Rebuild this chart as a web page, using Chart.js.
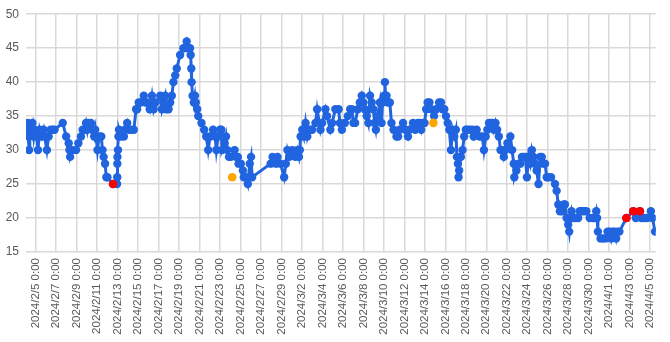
<!DOCTYPE html>
<html>
<head>
<meta charset="utf-8">
<script src="https://cdn.jsdelivr.net/npm/chart.js@4"></script>
<style>
  html, body { margin:0; padding:0; background:#fff; }
  #wrap { width:670px; height:342px; }
</style>
</head>
<body>
<div id="wrap"><canvas id="chart"></canvas></div>
<script>
// x = days after 2024/2/5 0:00
const days = [-0.87,-0.77,-0.73,-0.65,-0.58,-0.32,-0.19,-0.1,0.1,0.22,0.39,0.58,0.77,0.87,1.09,1.26,1.45,1.67,1.84,2.64,
  2.97,3.22,3.29,3.36,3.58,3.94,4.16,4.42,4.58,4.74,4.91,5.03,5.13,5.39,5.52,5.71,5.81,6.03,6.19,6.4,
  6.52,6.63,6.77,6.9,7.0,7.55,7.94,7.96,7.97,7.98,8.03,8.08,8.13,8.32,8.61,8.71,8.93,9.1,9.29,9.58,
  9.8,9.9,10.06,10.26,10.55,10.74,10.87,11.13,11.35,11.52,11.71,12.16,12.32,12.48,12.65,12.77,12.97,13.13,13.29,13.45,
  13.62,13.77,14.1,14.42,14.52,14.74,14.9,15.07,15.13,15.19,15.22,15.32,15.44,15.55,15.63,15.77,15.87,16.19,16.45,16.65,
  16.84,17.03,17.32,17.52,17.64,17.81,18.0,18.13,18.19,18.45,18.58,18.71,18.87,19.06,19.42,19.55,19.74,19.81,20.03,20.23,
  20.32,20.52,20.71,20.9,21.03,21.13,22.94,23.13,23.45,23.61,23.9,24.26,24.42,24.58,24.77,25.06,25.35,25.55,25.71,25.79,
  25.87,26.03,26.19,26.35,26.52,26.68,26.84,27.0,27.32,27.48,27.81,27.97,28.29,28.45,28.77,28.94,29.26,29.58,29.71,29.9,
  30.19,30.48,30.71,30.87,31.03,31.19,31.45,31.65,31.84,32.0,32.13,32.32,32.48,32.65,32.81,32.97,33.1,33.22,33.39,33.61,
  33.77,33.87,34.02,34.1,34.16,34.26,34.4,34.58,34.74,34.94,35.23,35.39,35.52,35.87,36.1,36.35,36.48,36.84,37.06,37.32,
  37.48,37.65,37.81,37.97,38.13,38.27,38.45,38.61,38.9,39.1,39.39,39.58,39.74,39.9,40.06,40.23,40.39,40.55,40.7,40.87,
  41.03,41.13,41.23,41.29,41.35,41.52,41.68,41.84,42.0,42.16,42.39,42.65,42.77,43.06,43.35,43.61,43.77,43.94,44.1,44.26,
  44.42,44.58,44.74,44.9,45.06,45.23,45.39,45.55,45.71,45.87,46.06,46.35,46.52,46.68,46.74,46.94,47.16,47.32,47.48,47.65,
  47.81,47.97,48.13,48.29,48.45,48.61,48.77,48.92,49.1,49.26,49.42,49.58,49.74,49.9,50.03,50.32,50.71,50.87,51.03,51.19,
  51.39,51.58,51.68,51.84,52.0,52.1,52.21,52.33,52.48,52.74,52.97,53.13,53.29,53.52,53.77,54.1,54.42,54.58,54.74,54.82,
  54.9,55.16,55.39,55.65,55.84,56.03,56.19,56.32,56.52,56.68,56.81,57.0,57.68,58.35,58.6,59.0,59.13,59.42,59.71,60.07,
  60.23,60.48];

const values = [33,34,32,30,33,34,32,33,32,30,33,32,33,32,30,32,33,33,33,34,
  32,31,30,29,30,30,31,32,33,33,34,33,34,34,33,32,33,30,32,32,
  30,29,28,26,26,25,25,26,28,29,30,32,33,32,32,33,34,33,33,33,
  36,36,37,37,38,37,37,36,38,36,37,38,36,37,38,36,36,37,38,40,
  41,42,44,45,45,46,45,45,44,42,40,38,37,38,37,36,35,34,33,32,
  30,32,33,32,30,32,33,33,30,31,32,30,29,29,30,29,29,28,28,27,
  26,26,25,28,29,26,28,29,28,29,28,26,28,30,29,30,29,30,29,30,
  32,33,32,34,32,33,33,33,34,36,33,34,36,35,33,34,36,36,34,33,
  34,35,36,36,34,34,36,37,38,37,36,35,34,38,37,36,34,33,35,37,
  34,37,38,40,38,38,37,37,34,33,32,32,33,34,33,32,33,34,33,34,
  34,33,34,34,36,37,37,36,35,36,37,37,36,36,35,34,33,30,33,32,
  33,29,28,26,27,29,30,32,33,33,33,33,32,33,32,32,30,32,33,34,
  34,34,33,34,33,32,30,30,29,30,31,32,30,28,26,27,28,28,29,29,
  29,26,29,28,30,29,28,27,25,29,29,28,28,26,26,26,25,24,22,21,
  21,22,22,20,19,18,20,21,20,20,20,21,21,21,21,20,20,20,21,20,
  18,17,17,17,18,18,17,18,18,17,18,18,20,21,20,21,20,20,20,21,
  20,18];

// highlighted points
const redDays = [7.55, 57.68, 58.35, 59.0];
const redValues = [25, 20, 21, 21];
const orangeDays = [19.19, 38.83];
const orangeValues = [26, 34];

const tickLabels = ['2024/2/5 0:00','2024/2/7 0:00','2024/2/9 0:00','2024/2/11 0:00','2024/2/13 0:00',
  '2024/2/15 0:00','2024/2/17 0:00','2024/2/19 0:00','2024/2/21 0:00','2024/2/23 0:00','2024/2/25 0:00',
  '2024/2/27 0:00','2024/2/29 0:00','2024/3/2 0:00','2024/3/4 0:00','2024/3/6 0:00','2024/3/8 0:00',
  '2024/3/10 0:00','2024/3/12 0:00','2024/3/14 0:00','2024/3/16 0:00','2024/3/18 0:00','2024/3/20 0:00',
  '2024/3/22 0:00','2024/3/24 0:00','2024/3/26 0:00','2024/3/28 0:00','2024/3/30 0:00','2024/4/1 0:00',
  '2024/4/3 0:00','2024/4/5 0:00'];
const tickStep = 2;

const blue = '#2164E0';

function pts(xs, ys){
  return xs.map((x,i)=>({x:x, y:ys[i]}));
}

const grid = { color:'#d9d9d9', lineWidth:1.5, drawTicks:false };

new Chart(document.getElementById('chart'), {
  type: 'line',
  data: {
    datasets: [
      { data: pts(redDays, redValues), showLine:false, pointRadius:4.3, pointBackgroundColor:'#ff0000', pointBorderWidth:0, order:0 },
      { data: pts(orangeDays, orangeValues), showLine:false, pointRadius:4.3, pointBackgroundColor:'#ffa500', pointBorderWidth:0, order:0 },
      { data: pts(days, values), borderColor:blue, borderWidth:3, pointRadius:4.2, pointBackgroundColor:blue, pointBorderWidth:0, order:1 }
    ]
  },
  options: {
    responsive: true,
    maintainAspectRatio: false,
    animation: false,
    layout: { padding: { top:3, right:8, left:0, bottom:0 } },
    plugins: { legend:{display:false}, tooltip:{enabled:false} },
    scales: {
      x: {
        type: 'linear',
        min: -0.95,
        max: 60.55,
        grid: grid,
        border: { display:false },
        afterBuildTicks: s => { s.ticks = tickLabels.map((t,i)=>({value:i*tickStep})); },
        afterFit: s => { s.height = 90; },
        ticks: {
          autoSkip: false,
          minRotation: 90,
          maxRotation: 90,
          padding: 6,
          color: '#595959',
          font: { family:'Liberation Sans', size:11.5 },
          callback: (v) => tickLabels[Math.round(v/tickStep)]
        }
      },
      y: {
        min: 15,
        max: 50,
        grid: grid,
        border: { display:false },
        afterFit: s => { s.width = 26; },
        ticks: {
          stepSize: 5,
          padding: 7,
          color: '#595959',
          font: { family:'Liberation Sans', size:12 }
        }
      }
    }
  }
});
</script>
</body>
</html>
